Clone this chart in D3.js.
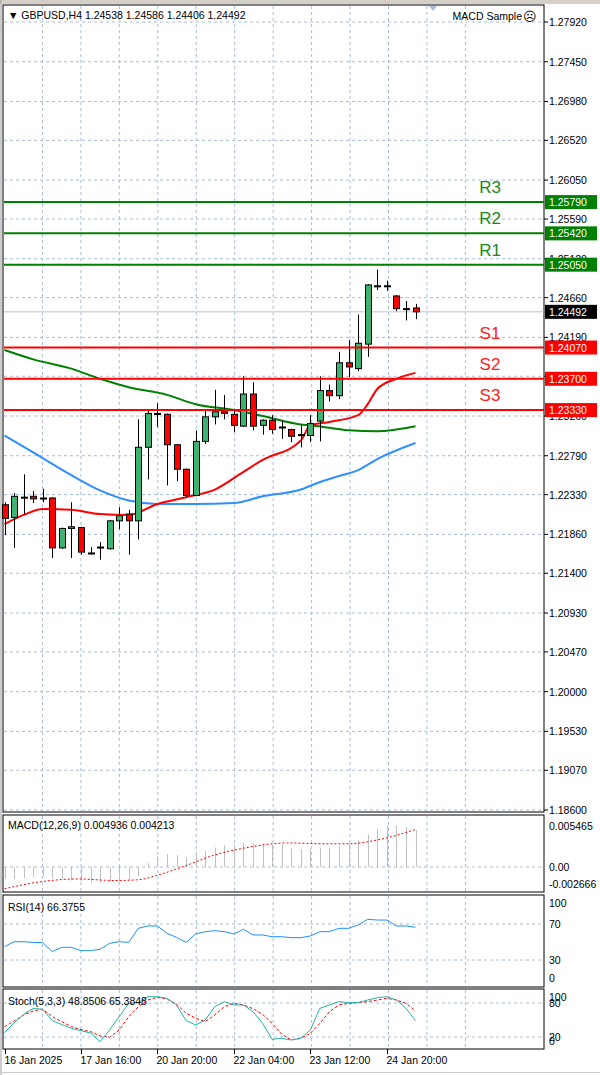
<!DOCTYPE html>
<html><head><meta charset="utf-8">
<script src="https://cdn.jsdelivr.net/npm/d3@7"></script>
<style>body{margin:0;background:#fff}svg{display:block}text{font-family:"Liberation Sans",Arial,sans-serif}</style>
</head><body><svg id="c" width="600" height="1075"></svg>
<script>
// candles (open, high, low, close)
var opens=[1.2221,1.2206,1.2230,1.2231,1.2229,1.2229,1.2170,1.2193,1.2194,1.2164,1.2170,1.2169,1.2202,1.2210,1.2202,1.2289,1.2329,1.2328,1.2292,1.2263,1.2232,1.2296,1.2325,1.2331,1.2328,1.2314,1.2352,1.2315,1.2321,1.2313,1.2310,1.2304,1.2303,1.2320,1.2356,1.2350,1.2389,1.2382,1.2411,1.2480,1.2480,1.2468,1.2453,1.24538];
var highs=[1.2224,1.2235,1.2257,1.2237,1.2240,1.2230,1.2194,1.2224,1.2195,1.2171,1.2177,1.2203,1.2218,1.2215,1.2322,1.2334,1.2341,1.2329,1.2293,1.2264,1.2309,1.2334,1.2357,1.2351,1.2334,1.2373,1.2366,1.2322,1.2327,1.2321,1.2311,1.2315,1.2327,1.2373,1.2363,1.2402,1.2416,1.2446,1.2482,1.2499,1.2486,1.2469,1.2462,1.24586];
var lows=[1.2185,1.2170,1.2210,1.2223,1.2224,1.2158,1.2169,1.2158,1.2162,1.2162,1.2156,1.2168,1.2192,1.2162,1.2180,1.2251,1.2313,1.2244,1.2249,1.2230,1.2231,1.2293,1.2316,1.2322,1.2307,1.2313,1.2309,1.2304,1.2305,1.2299,1.2295,1.2289,1.2295,1.2296,1.2343,1.2346,1.2372,1.2379,1.2396,1.2475,1.2474,1.2450,1.2439,1.24406];
var closes=[1.2205,1.2231,1.2229,1.2228,1.2228,1.2170,1.2193,1.2195,1.2165,1.2163,1.2171,1.2202,1.2208,1.2202,1.2289,1.2329,1.2328,1.2292,1.2263,1.2232,1.2296,1.2325,1.2331,1.2329,1.2315,1.2352,1.2314,1.2321,1.2310,1.2312,1.2302,1.2303,1.2317,1.2356,1.2350,1.2389,1.2384,1.2412,1.2481,1.2479,1.2479,1.2453,1.2452,1.24492];

// moving averages, sampled [bar, price]
var maBlue=[[0,1.2303],[3,1.2283],[7,1.2256],[10,1.2238],[13,1.2226],[16,1.2222],[20,1.2222],[24,1.2223],[27,1.2231],[31,1.2239],[33,1.2248],[35,1.2255],[37,1.2262],[39,1.2275],[43,1.2294]];
var maGreen=[[0,1.2404],[3,1.2393],[7,1.2382],[10,1.2370],[13,1.2360],[17,1.2351],[20,1.2340],[24,1.2333],[27,1.2326],[31,1.2316],[32,1.2315],[34,1.2312],[36,1.2309],[39,1.2308],[43,1.2314]];
var maRed=[[0,1.2198],[2,1.2209],[4,1.2216],[7,1.2215],[10,1.2210],[13,1.2209],[16,1.2222],[19,1.2230],[22,1.2239],[25,1.2260],[27,1.2274],[31,1.2297],[32,1.2315],[34,1.2319],[37,1.2327],[38,1.2340],[39,1.2358],[41,1.2370],[43,1.2377]];

var levelNames=["R3","R2","R1","S1","S2","S3"];
var levelValues=[1.2579,1.2542,1.2505,1.2407,1.2370,1.2333];
var priceTicks=["1.27920","1.27450","1.26980","1.26520","1.26050","1.25590","1.25120","1.24660","1.24190","1.23730","1.23260","1.22790","1.22330","1.21860","1.21400","1.20930","1.20470","1.20000","1.19530","1.19070","1.18600"];
var lastPrice=1.24492;

var macdHist=[-0.0016,-0.0016,-0.0015,-0.0013,-0.0013,-0.0015,-0.0016,-0.0018,-0.0019,-0.0021,-0.0021,-0.0020,-0.0019,-0.0017,-0.0012,0.0005,0.0014,0.0017,0.0016,0.0013,0.0017,0.0022,0.0026,0.0029,0.0030,0.0032,0.0031,0.0031,0.0030,0.0030,0.0025,0.0024,0.0024,0.0026,0.0026,0.0028,0.0031,0.0036,0.0043,0.0050,0.0055,0.0055,0.0053,0.0049];
var macdSignal=[[0,-0.0029],[3.6,-0.0020],[7.6,-0.0016],[11.6,-0.0018],[14,-0.0017],[16,-0.0011],[18.8,0.0001],[22,0.0016],[25,0.0025],[29.6,0.0032],[33.6,0.0031],[36,0.0031],[39,0.0036],[43,0.0050]];
var rsi=[44.8,50.3,50.3,49.6,49.3,39.3,44.1,44.1,40.4,40.4,41.9,48.5,50.3,49.6,65.2,67.8,67.8,59.6,55.2,49.6,58.9,61.5,62.6,61.5,58.9,64.1,57.8,57.8,55.9,55.9,54.8,54.8,56.7,61.5,61.5,65.2,65.2,68.9,75.2,74.4,74.4,67.8,67.8,66.4];
var stochMain=[27.7,45,60,70.6,68.8,48.9,42,35.3,31.2,27,11.8,32.4,55.9,79.4,80.6,91.1,91.1,88.2,76.5,48.9,41.2,50,73.5,82.4,76.5,76.5,64.7,44.2,15.9,17.7,14.7,17.7,32.4,70.6,76.5,82.4,80.6,80.6,85.3,89.4,91.1,85.3,70.6,48.9];
var stochSignal=[38.3,48,58.8,66,68.8,55.9,47,38.3,33,29.5,22,19.4,32.4,55.9,73.5,85.3,90,87,78,62,53,47.1,58.8,73.5,79.4,76.5,70,60,44.2,25,14.7,17.7,26.5,44.2,64.7,76.5,79.4,80.6,82.4,85.3,88.2,85.3,79.4,65.4];
var dateLabels=["16 Jan 2025","17 Jan 16:00","20 Jan 20:00","22 Jan 04:00","23 Jan 12:00","24 Jan 20:00"];
var dateBars=[0,8,16,24,32,40];

var svg=d3.select("#c");
var L=3,R=544;
var x=d3.scaleLinear().domain([0,43]).range([4.5,415.5]);
var y=d3.scaleLinear().domain([1.1860,1.2792]).range([810,22]);
var gridCol="#a9bcd9";

// panels
var panels=[[5,812],[815,892],[895,987],[989,1049]];
panels.forEach(function(p){
  svg.append("rect").attr("x",L).attr("y",p[0]).attr("width",R-L).attr("height",p[1]-p[0])
    .attr("fill","#fff").attr("stroke","#000").attr("stroke-width",1);
});
svg.append("rect").attr("x",0).attr("y",0).attr("width",600).attr("height",4).attr("fill","#d4d0c8");
svg.append("line").attr("x1",1).attr("x2",1).attr("y1",0).attr("y2",1075).attr("stroke","#999");

// vertical grid
var vg=d3.range(0,13).map(function(i){return 4+38.45*i});
panels.forEach(function(p){
  svg.selectAll(null).data(vg.slice(1)).enter().append("line")
    .attr("x1",function(d){return d}).attr("x2",function(d){return d})
    .attr("y1",p[0]+1).attr("y2",p[1]-1).attr("stroke",gridCol).attr("stroke-dasharray","3,3");
});

// price grid + labels
priceTicks.forEach(function(t){
  var yy=y(+t);
  svg.append("line").attr("x1",L+1).attr("x2",R-1).attr("y1",yy).attr("y2",yy).attr("stroke",gridCol).attr("stroke-dasharray","3,3");
  svg.append("line").attr("x1",R).attr("x2",R+4).attr("y1",yy).attr("y2",yy).attr("stroke","#000");
  svg.append("text").attr("x",549).attr("y",yy+4).attr("font-size",10.5).text(t);
});

// current price line
svg.append("line").attr("x1",L+1).attr("x2",R).attr("y1",y(lastPrice)).attr("y2",y(lastPrice)).attr("stroke","#b4c4dc");

// moving averages
var maLine=d3.line().x(function(d){return x(d[0])}).y(function(d){return y(d[1])}).curve(d3.curveMonotoneX);
[[maBlue,"#2f8fff"],[maGreen,"#008000"],[maRed,"#ff0000"]].forEach(function(m){
  svg.append("path").attr("d",maLine(m[0])).attr("fill","none").attr("stroke",m[1]).attr("stroke-width",2);
});

// candles
var bars=d3.range(opens.length);
svg.selectAll(".wick").data(bars).enter().append("line")
  .attr("x1",function(i){return Math.round(x(i))+0.5}).attr("x2",function(i){return Math.round(x(i))+0.5})
  .attr("y1",function(i){return y(highs[i])}).attr("y2",function(i){return y(lows[i])})
  .attr("stroke","#000").attr("stroke-width",1);
svg.selectAll(".body").data(bars).enter().append("rect")
  .attr("x",function(i){return Math.round(x(i))-2.5}).attr("width",6)
  .attr("y",function(i){return y(Math.max(opens[i],closes[i]))})
  .attr("height",function(i){return Math.max(1,Math.abs(y(opens[i])-y(closes[i])))})
  .attr("fill",function(i){return closes[i]>=opens[i]?"#3cb371":"#ff0000"})
  .attr("stroke","#000").attr("stroke-width",1);

// support / resistance
levelValues.forEach(function(v,i){
  var col=i<3?"#008000":"#ff0000", yy=y(v);
  svg.append("line").attr("x1",L+1).attr("x2",R).attr("y1",yy).attr("y2",yy).attr("stroke",col).attr("stroke-width",2);
  svg.append("text").attr("x",490).attr("y",yy-9).attr("text-anchor","middle").attr("font-size",17)
    .attr("fill",i<3?"#1a8a1a":"#ff2020").text(levelNames[i]);
  svg.append("rect").attr("x",545).attr("y",yy-7).attr("width",52).attr("height",14).attr("fill",col);
  svg.append("text").attr("x",549).attr("y",yy+4).attr("font-size",10.5).attr("fill","#fff").text(v.toFixed(5));
});
svg.append("rect").attr("x",545).attr("y",y(lastPrice)-7).attr("width",52).attr("height",14).attr("fill","#000");
svg.append("text").attr("x",549).attr("y",y(lastPrice)+4).attr("font-size",10.5).attr("fill","#fff").text(lastPrice.toFixed(5));

// header
svg.append("text").attr("x",8).attr("y",19).attr("font-size",10.5)
  .text("\u25BC GBPUSD,H4  1.24538 1.24586 1.24406 1.24492");
svg.append("text").attr("x",522).attr("y",20).attr("text-anchor","end").attr("font-size",10.5).text("MACD Sample");
svg.append("text").attr("x",530).attr("y",21).attr("text-anchor","middle").attr("font-size",13).text("\u2639");
svg.append("path").attr("d","M429,6 L437,6 L433,11 Z").attr("fill","#a9bcd9");

// MACD
var ym=d3.scaleLinear().domain([0,0.005465]).range([867,826]);
svg.append("line").attr("x1",L+1).attr("x2",R-1).attr("y1",ym(0)).attr("y2",ym(0)).attr("stroke",gridCol).attr("stroke-dasharray","3,3");
svg.selectAll(".hist").data(bars).enter().append("line")
  .attr("x1",function(i){return Math.round(x(i))+0.5}).attr("x2",function(i){return Math.round(x(i))+0.5})
  .attr("y1",ym(0)).attr("y2",function(i){return ym(macdHist[i])}).attr("stroke","#c0c0c0");
svg.append("path").attr("d",maLine.y(function(d){return ym(d[1])})(macdSignal))
  .attr("fill","none").attr("stroke","#ff0000").attr("stroke-dasharray","2,2");
[["0.005465",826],["0.00",867],["-0.002666",884]].forEach(function(t){
  svg.append("text").attr("x",549).attr("y",t[1]+4).attr("font-size",10.5).text(t[0]);
});
svg.append("text").attr("x",8).attr("y",829).attr("font-size",10.5).text("MACD(12,26,9) 0.004936 0.004213");

// RSI
var yr=d3.scaleLinear().domain([30,70]).range([960,924]);
[70,30].forEach(function(v){
  svg.append("line").attr("x1",L+1).attr("x2",R-1).attr("y1",yr(v)).attr("y2",yr(v)).attr("stroke",gridCol).attr("stroke-dasharray","3,3");
});
svg.append("path").attr("d",d3.line().x(function(d,i){return x(i)}).y(function(d){return yr(d)})(rsi))
  .attr("fill","none").attr("stroke","#1e90ff").attr("stroke-width",1);
[["100",903],["70",924],["30",960],["0",978]].forEach(function(t){
  svg.append("text").attr("x",549).attr("y",t[1]+4).attr("font-size",10.5).text(t[0]);
});
svg.append("text").attr("x",8).attr("y",911).attr("font-size",10.5).text("RSI(14) 66.3755");

// Stochastic
var ys=d3.scaleLinear().domain([20,80]).range([1037,1003]);
[80,20].forEach(function(v){
  svg.append("line").attr("x1",L+1).attr("x2",R-1).attr("y1",ys(v)).attr("y2",ys(v)).attr("stroke",gridCol).attr("stroke-dasharray","3,3");
});
var sl=d3.line().x(function(d,i){return x(i)}).y(function(d){return ys(d)});
svg.append("path").attr("d",sl(stochSignal)).attr("fill","none").attr("stroke","#ff0000").attr("stroke-dasharray","3,2");
svg.append("path").attr("d",sl(stochMain)).attr("fill","none").attr("stroke","#20b2aa");
[["100",997],["80",1003],["20",1037],["0",1041]].forEach(function(t){
  svg.append("text").attr("x",549).attr("y",t[1]+4).attr("font-size",10.5).text(t[0]);
});
svg.append("text").attr("x",8).attr("y",1005).attr("font-size",10.5).text("Stoch(5,3,3) 48.8506 65.3848");

// time axis
dateBars.forEach(function(b,i){
  var xx=Math.round(x(b))+0.5;
  svg.append("line").attr("x1",xx).attr("x2",xx).attr("y1",1049).attr("y2",1054).attr("stroke","#000");
  svg.append("text").attr("x",xx-1).attr("y",1064).attr("font-size",10.5).text(dateLabels[i]);
});
svg.append("line").attr("x1",0).attr("x2",600).attr("y1",1072.5).attr("y2",1072.5).attr("stroke","#ccc");
</script></body></html>
